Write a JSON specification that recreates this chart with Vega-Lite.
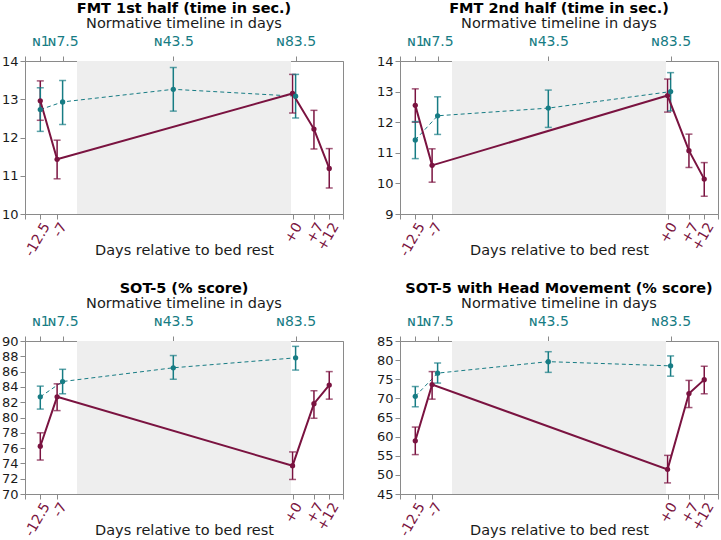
{
  "$schema": "https://vega.github.io/schema/vega-lite/v6.json",
  "padding": {"left": 0, "top": 0, "right": 2, "bottom": 2},
  "background": "white",
  "config": {
    "font": "DejaVu Sans",
    "view": {"stroke": "#8a8a8a", "strokeWidth": 1},
    "axis": {"domainColor": "#8a8a8a", "tickColor": "#8a8a8a", "grid": false, "labelColor": "#1a1a1a", "titleColor": "#1a1a1a", "labelFont": "DejaVu Sans", "titleFont": "DejaVu Sans", "titleFontWeight": "normal", "tickSize": 5},
    "axisY": {"labelOverlap": false, "labelFontSize": 13, "labelPadding": 2, "title": null}
  },
  "datasets": {
    "band": [{"start": 12, "end": 82}],
    "pts": [
      {"p": "FMT1", "g": "Bed rest", "x": 0, "mean": 12.96, "lo": 12.45, "hi": 13.48},
      {"p": "FMT1", "g": "Bed rest", "x": 5.5, "mean": 11.43, "lo": 10.92, "hi": 11.93},
      {"p": "FMT1", "g": "Bed rest", "x": 82.5, "mean": 13.15, "lo": 12.64, "hi": 13.65},
      {"p": "FMT1", "g": "Bed rest", "x": 89.5, "mean": 12.22, "lo": 11.70, "hi": 12.71},
      {"p": "FMT1", "g": "Bed rest", "x": 94.5, "mean": 11.19, "lo": 10.68, "hi": 11.71},
      {"p": "FMT1", "g": "Normative", "x": 0, "mean": 12.73, "lo": 12.16, "hi": 13.30},
      {"p": "FMT1", "g": "Normative", "x": 7.3, "mean": 12.93, "lo": 12.34, "hi": 13.49},
      {"p": "FMT1", "g": "Normative", "x": 43.5, "mean": 13.26, "lo": 12.69, "hi": 13.83},
      {"p": "FMT1", "g": "Normative", "x": 83.5, "mean": 13.08, "lo": 12.51, "hi": 13.65},
      {"p": "FMT2", "g": "Bed rest", "x": 0, "mean": 12.55, "lo": 12.0, "hi": 13.09},
      {"p": "FMT2", "g": "Bed rest", "x": 5.5, "mean": 10.59, "lo": 10.04, "hi": 11.13},
      {"p": "FMT2", "g": "Bed rest", "x": 82.5, "mean": 12.87, "lo": 12.33, "hi": 13.41},
      {"p": "FMT2", "g": "Bed rest", "x": 89.5, "mean": 11.07, "lo": 10.52, "hi": 11.61},
      {"p": "FMT2", "g": "Bed rest", "x": 94.5, "mean": 10.14, "lo": 9.58, "hi": 10.68},
      {"p": "FMT2", "g": "Normative", "x": 0, "mean": 11.42, "lo": 10.81, "hi": 12.02},
      {"p": "FMT2", "g": "Normative", "x": 7.3, "mean": 12.21, "lo": 11.60, "hi": 12.83},
      {"p": "FMT2", "g": "Normative", "x": 43.5, "mean": 12.46, "lo": 11.83, "hi": 13.05},
      {"p": "FMT2", "g": "Normative", "x": 83.5, "mean": 13.0, "lo": 12.37, "hi": 13.62},
      {"p": "SOT5", "g": "Bed rest", "x": 0, "mean": 76.24, "lo": 74.44, "hi": 78.0},
      {"p": "SOT5", "g": "Bed rest", "x": 5.5, "mean": 82.7, "lo": 80.9, "hi": 84.4},
      {"p": "SOT5", "g": "Bed rest", "x": 82.5, "mean": 73.7, "lo": 71.9, "hi": 75.5},
      {"p": "SOT5", "g": "Bed rest", "x": 89.5, "mean": 81.8, "lo": 79.9, "hi": 83.5},
      {"p": "SOT5", "g": "Bed rest", "x": 94.5, "mean": 84.24, "lo": 82.4, "hi": 86.0},
      {"p": "SOT5", "g": "Normative", "x": 0, "mean": 82.7, "lo": 81.1, "hi": 84.1},
      {"p": "SOT5", "g": "Normative", "x": 7.3, "mean": 84.7, "lo": 83.1, "hi": 86.3},
      {"p": "SOT5", "g": "Normative", "x": 43.5, "mean": 86.5, "lo": 85.0, "hi": 88.1},
      {"p": "SOT5", "g": "Normative", "x": 83.5, "mean": 87.8, "lo": 86.2, "hi": 89.3},
      {"p": "SOT5HM", "g": "Bed rest", "x": 0, "mean": 58.9, "lo": 55.3, "hi": 62.5},
      {"p": "SOT5HM", "g": "Bed rest", "x": 5.5, "mean": 73.6, "lo": 69.8, "hi": 77.0},
      {"p": "SOT5HM", "g": "Bed rest", "x": 82.5, "mean": 51.45, "lo": 47.9, "hi": 55.1},
      {"p": "SOT5HM", "g": "Bed rest", "x": 89.5, "mean": 71.25, "lo": 67.6, "hi": 74.7},
      {"p": "SOT5HM", "g": "Bed rest", "x": 94.5, "mean": 74.9, "lo": 71.2, "hi": 78.4},
      {"p": "SOT5HM", "g": "Normative", "x": 0, "mean": 70.55, "lo": 67.8, "hi": 73.1},
      {"p": "SOT5HM", "g": "Normative", "x": 7.3, "mean": 76.6, "lo": 74.0, "hi": 79.25},
      {"p": "SOT5HM", "g": "Normative", "x": 43.5, "mean": 79.6, "lo": 76.8, "hi": 82.2},
      {"p": "SOT5HM", "g": "Normative", "x": 83.5, "mean": 78.5, "lo": 75.8, "hi": 81.1}
    ]
  },
  "columns": 2,
  "spacing": {"row": 127, "column": 57},
  "bounds": "flush",
  "concat": [
    {
      "width": 318, "height": 153,
      "title": {"text": "FMT 1st half (time in sec.)", "subtitle": "Normative timeline in days", "fontSize": 14.5, "fontWeight": "bold", "color": "#000000", "subtitleFontSize": 14.5, "subtitleFontWeight": "normal", "subtitleColor": "#1a1a1a", "subtitlePadding": 0, "offset": 3, "anchor": "middle", "font": "DejaVu Sans", "subtitleFont": "DejaVu Sans"},
      "resolve": {"axis": {"x": "independent", "y": "independent"}},
      "layer": [
        {"data": {"name": "band"}, "mark": {"type": "rect", "color": "#eeeeee"},
         "encoding": {
           "x": {"field": "start", "type": "quantitative", "scale": {"domain": [-5, 99], "nice": false, "zero": false},
                 "axis": {"orient": "bottom", "title": "Days relative to bed rest", "titleFontSize": 14.5, "titleY": 40, "titleBaseline": "alphabetic", "values": [-5, 0, 5.5, 82.5, 89.5, 94.5, 99], "labelExpr": "datum.value == 0 ? '-12.5' : datum.value == 5.5 ? '-7' : datum.value == 82.5 ? '+0' : datum.value == 89.5 ? '+7' : datum.value == 94.5 ? '+12' : ''", "labelAngle": -60, "labelAlign": "right", "labelBaseline": "top", "labelFontSize": 14, "labelColor": "#7a1340", "labelPadding": 1, "labelOverlap": false, "labelFlush": false}},
           "x2": {"field": "end"}}},
        {"data": {"name": "pts"}, "transform": [{"filter": "datum.p == 'FMT1' && datum.g == 'Normative'"}],
         "mark": {"type": "line", "strokeWidth": 1, "strokeDash": [4, 3], "color": "#177c84"},
         "encoding": {
           "x": {"field": "x", "type": "quantitative", "scale": {"domain": [-5, 99], "nice": false, "zero": false},
                 "axis": {"orient": "top", "title": null, "values": [-5, 0, 7.3, 43.5, 83.5], "labelExpr": "datum.value == 0 ? 'ɴ1' : datum.value == 7.3 ? 'ɴ7.5' : datum.value == 43.5 ? 'ɴ43.5' : datum.value == 83.5 ? 'ɴ83.5' : ''", "labelFontSize": 14, "labelColor": "#177c84", "labelPadding": 8, "labelOverlap": false, "labelFlush": false}},
           "y": {"field": "mean", "type": "quantitative", "scale": {"domain": [10, 14], "nice": false, "zero": false},
                 "axis": {"title": null, "values": [10, 11, 12, 13, 14], "labelOverlap": false, "labelFlush": false}}}},
        {"data": {"name": "pts"}, "transform": [{"filter": "datum.p == 'FMT1'"}],
         "mark": {"type": "rule", "strokeWidth": 1.5},
         "encoding": {"x": {"field": "x", "type": "quantitative", "axis": null}, "y": {"field": "lo", "type": "quantitative", "axis": null}, "y2": {"field": "hi"},
           "color": {"field": "g", "type": "nominal", "scale": {"domain": ["Bed rest", "Normative"], "range": ["#7a1340", "#177c84"]}, "legend": null}}},
        {"data": {"name": "pts"}, "transform": [{"filter": "datum.p == 'FMT1'"}],
         "mark": {"type": "tick", "orient": "horizontal", "size": 7, "thickness": 1.5},
         "encoding": {"x": {"field": "x", "type": "quantitative", "axis": null}, "y": {"field": "lo", "type": "quantitative", "axis": null},
           "color": {"field": "g", "type": "nominal", "legend": null}}},
        {"data": {"name": "pts"}, "transform": [{"filter": "datum.p == 'FMT1'"}],
         "mark": {"type": "tick", "orient": "horizontal", "size": 7, "thickness": 1.5},
         "encoding": {"x": {"field": "x", "type": "quantitative", "axis": null}, "y": {"field": "hi", "type": "quantitative", "axis": null},
           "color": {"field": "g", "type": "nominal", "legend": null}}},
        {"data": {"name": "pts"}, "transform": [{"filter": "datum.p == 'FMT1' && datum.g == 'Bed rest'"}],
         "mark": {"type": "line", "strokeWidth": 2, "color": "#7a1340"},
         "encoding": {"x": {"field": "x", "type": "quantitative", "axis": null}, "y": {"field": "mean", "type": "quantitative", "axis": null}}},
        {"data": {"name": "pts"}, "transform": [{"filter": "datum.p == 'FMT1'"}],
         "mark": {"type": "circle", "size": 28, "opacity": 1},
         "encoding": {"x": {"field": "x", "type": "quantitative", "axis": null}, "y": {"field": "mean", "type": "quantitative", "axis": null},
           "color": {"field": "g", "type": "nominal", "legend": null}}}
      ]
    },
    {
      "width": 318, "height": 153,
      "title": {"text": "FMT 2nd half (time in sec.)", "subtitle": "Normative timeline in days", "fontSize": 14.5, "fontWeight": "bold", "color": "#000000", "subtitleFontSize": 14.5, "subtitleFontWeight": "normal", "subtitleColor": "#1a1a1a", "subtitlePadding": 0, "offset": 3, "anchor": "middle", "font": "DejaVu Sans", "subtitleFont": "DejaVu Sans"},
      "resolve": {"axis": {"x": "independent", "y": "independent"}},
      "layer": [
        {"data": {"name": "band"}, "mark": {"type": "rect", "color": "#eeeeee"},
         "encoding": {
           "x": {"field": "start", "type": "quantitative", "scale": {"domain": [-5, 99], "nice": false, "zero": false},
                 "axis": {"orient": "bottom", "title": "Days relative to bed rest", "titleFontSize": 14.5, "titleY": 40, "titleBaseline": "alphabetic", "values": [-5, 0, 5.5, 82.5, 89.5, 94.5, 99], "labelExpr": "datum.value == 0 ? '-12.5' : datum.value == 5.5 ? '-7' : datum.value == 82.5 ? '+0' : datum.value == 89.5 ? '+7' : datum.value == 94.5 ? '+12' : ''", "labelAngle": -60, "labelAlign": "right", "labelBaseline": "top", "labelFontSize": 14, "labelColor": "#7a1340", "labelPadding": 1, "labelOverlap": false, "labelFlush": false}},
           "x2": {"field": "end"}}},
        {"data": {"name": "pts"}, "transform": [{"filter": "datum.p == 'FMT2' && datum.g == 'Normative'"}],
         "mark": {"type": "line", "strokeWidth": 1, "strokeDash": [4, 3], "color": "#177c84"},
         "encoding": {
           "x": {"field": "x", "type": "quantitative", "scale": {"domain": [-5, 99], "nice": false, "zero": false},
                 "axis": {"orient": "top", "title": null, "values": [-5, 0, 7.3, 43.5, 83.5], "labelExpr": "datum.value == 0 ? 'ɴ1' : datum.value == 7.3 ? 'ɴ7.5' : datum.value == 43.5 ? 'ɴ43.5' : datum.value == 83.5 ? 'ɴ83.5' : ''", "labelFontSize": 14, "labelColor": "#177c84", "labelPadding": 8, "labelOverlap": false, "labelFlush": false}},
           "y": {"field": "mean", "type": "quantitative", "scale": {"domain": [9, 14], "nice": false, "zero": false},
                 "axis": {"title": null, "values": [9, 10, 11, 12, 13, 14], "labelOverlap": false, "labelFlush": false}}}},
        {"data": {"name": "pts"}, "transform": [{"filter": "datum.p == 'FMT2'"}],
         "mark": {"type": "rule", "strokeWidth": 1.5},
         "encoding": {"x": {"field": "x", "type": "quantitative", "axis": null}, "y": {"field": "lo", "type": "quantitative", "axis": null}, "y2": {"field": "hi"},
           "color": {"field": "g", "type": "nominal", "scale": {"domain": ["Bed rest", "Normative"], "range": ["#7a1340", "#177c84"]}, "legend": null}}},
        {"data": {"name": "pts"}, "transform": [{"filter": "datum.p == 'FMT2'"}],
         "mark": {"type": "tick", "orient": "horizontal", "size": 7, "thickness": 1.5},
         "encoding": {"x": {"field": "x", "type": "quantitative", "axis": null}, "y": {"field": "lo", "type": "quantitative", "axis": null},
           "color": {"field": "g", "type": "nominal", "legend": null}}},
        {"data": {"name": "pts"}, "transform": [{"filter": "datum.p == 'FMT2'"}],
         "mark": {"type": "tick", "orient": "horizontal", "size": 7, "thickness": 1.5},
         "encoding": {"x": {"field": "x", "type": "quantitative", "axis": null}, "y": {"field": "hi", "type": "quantitative", "axis": null},
           "color": {"field": "g", "type": "nominal", "legend": null}}},
        {"data": {"name": "pts"}, "transform": [{"filter": "datum.p == 'FMT2' && datum.g == 'Bed rest'"}],
         "mark": {"type": "line", "strokeWidth": 2, "color": "#7a1340"},
         "encoding": {"x": {"field": "x", "type": "quantitative", "axis": null}, "y": {"field": "mean", "type": "quantitative", "axis": null}}},
        {"data": {"name": "pts"}, "transform": [{"filter": "datum.p == 'FMT2'"}],
         "mark": {"type": "circle", "size": 28, "opacity": 1},
         "encoding": {"x": {"field": "x", "type": "quantitative", "axis": null}, "y": {"field": "mean", "type": "quantitative", "axis": null},
           "color": {"field": "g", "type": "nominal", "legend": null}}}
      ]
    },
    {
      "width": 318, "height": 153,
      "title": {"text": "SOT-5 (% score)", "subtitle": "Normative timeline in days", "fontSize": 14.5, "fontWeight": "bold", "color": "#000000", "subtitleFontSize": 14.5, "subtitleFontWeight": "normal", "subtitleColor": "#1a1a1a", "subtitlePadding": 0, "offset": 3, "anchor": "middle", "font": "DejaVu Sans", "subtitleFont": "DejaVu Sans"},
      "resolve": {"axis": {"x": "independent", "y": "independent"}},
      "layer": [
        {"data": {"name": "band"}, "mark": {"type": "rect", "color": "#eeeeee"},
         "encoding": {
           "x": {"field": "start", "type": "quantitative", "scale": {"domain": [-5, 99], "nice": false, "zero": false},
                 "axis": {"orient": "bottom", "title": "Days relative to bed rest", "titleFontSize": 14.5, "titleY": 40, "titleBaseline": "alphabetic", "values": [-5, 0, 5.5, 82.5, 89.5, 94.5, 99], "labelExpr": "datum.value == 0 ? '-12.5' : datum.value == 5.5 ? '-7' : datum.value == 82.5 ? '+0' : datum.value == 89.5 ? '+7' : datum.value == 94.5 ? '+12' : ''", "labelAngle": -60, "labelAlign": "right", "labelBaseline": "top", "labelFontSize": 14, "labelColor": "#7a1340", "labelPadding": 1, "labelOverlap": false, "labelFlush": false}},
           "x2": {"field": "end"}}},
        {"data": {"name": "pts"}, "transform": [{"filter": "datum.p == 'SOT5' && datum.g == 'Normative'"}],
         "mark": {"type": "line", "strokeWidth": 1, "strokeDash": [4, 3], "color": "#177c84"},
         "encoding": {
           "x": {"field": "x", "type": "quantitative", "scale": {"domain": [-5, 99], "nice": false, "zero": false},
                 "axis": {"orient": "top", "title": null, "values": [-5, 0, 7.3, 43.5, 83.5], "labelExpr": "datum.value == 0 ? 'ɴ1' : datum.value == 7.3 ? 'ɴ7.5' : datum.value == 43.5 ? 'ɴ43.5' : datum.value == 83.5 ? 'ɴ83.5' : ''", "labelFontSize": 14, "labelColor": "#177c84", "labelPadding": 8, "labelOverlap": false, "labelFlush": false}},
           "y": {"field": "mean", "type": "quantitative", "scale": {"domain": [70, 90], "nice": false, "zero": false},
                 "axis": {"title": null, "values": [70, 72, 74, 76, 78, 80, 82, 84, 86, 88, 90], "labelOverlap": false, "labelFlush": false}}}},
        {"data": {"name": "pts"}, "transform": [{"filter": "datum.p == 'SOT5'"}],
         "mark": {"type": "rule", "strokeWidth": 1.5},
         "encoding": {"x": {"field": "x", "type": "quantitative", "axis": null}, "y": {"field": "lo", "type": "quantitative", "axis": null}, "y2": {"field": "hi"},
           "color": {"field": "g", "type": "nominal", "scale": {"domain": ["Bed rest", "Normative"], "range": ["#7a1340", "#177c84"]}, "legend": null}}},
        {"data": {"name": "pts"}, "transform": [{"filter": "datum.p == 'SOT5'"}],
         "mark": {"type": "tick", "orient": "horizontal", "size": 7, "thickness": 1.5},
         "encoding": {"x": {"field": "x", "type": "quantitative", "axis": null}, "y": {"field": "lo", "type": "quantitative", "axis": null},
           "color": {"field": "g", "type": "nominal", "legend": null}}},
        {"data": {"name": "pts"}, "transform": [{"filter": "datum.p == 'SOT5'"}],
         "mark": {"type": "tick", "orient": "horizontal", "size": 7, "thickness": 1.5},
         "encoding": {"x": {"field": "x", "type": "quantitative", "axis": null}, "y": {"field": "hi", "type": "quantitative", "axis": null},
           "color": {"field": "g", "type": "nominal", "legend": null}}},
        {"data": {"name": "pts"}, "transform": [{"filter": "datum.p == 'SOT5' && datum.g == 'Bed rest'"}],
         "mark": {"type": "line", "strokeWidth": 2, "color": "#7a1340"},
         "encoding": {"x": {"field": "x", "type": "quantitative", "axis": null}, "y": {"field": "mean", "type": "quantitative", "axis": null}}},
        {"data": {"name": "pts"}, "transform": [{"filter": "datum.p == 'SOT5'"}],
         "mark": {"type": "circle", "size": 28, "opacity": 1},
         "encoding": {"x": {"field": "x", "type": "quantitative", "axis": null}, "y": {"field": "mean", "type": "quantitative", "axis": null},
           "color": {"field": "g", "type": "nominal", "legend": null}}}
      ]
    },
    {
      "width": 318, "height": 153,
      "title": {"text": "SOT-5 with Head Movement (% score)", "subtitle": "Normative timeline in days", "fontSize": 14.5, "fontWeight": "bold", "color": "#000000", "subtitleFontSize": 14.5, "subtitleFontWeight": "normal", "subtitleColor": "#1a1a1a", "subtitlePadding": 0, "offset": 3, "anchor": "middle", "font": "DejaVu Sans", "subtitleFont": "DejaVu Sans"},
      "resolve": {"axis": {"x": "independent", "y": "independent"}},
      "layer": [
        {"data": {"name": "band"}, "mark": {"type": "rect", "color": "#eeeeee"},
         "encoding": {
           "x": {"field": "start", "type": "quantitative", "scale": {"domain": [-5, 99], "nice": false, "zero": false},
                 "axis": {"orient": "bottom", "title": "Days relative to bed rest", "titleFontSize": 14.5, "titleY": 40, "titleBaseline": "alphabetic", "values": [-5, 0, 5.5, 82.5, 89.5, 94.5, 99], "labelExpr": "datum.value == 0 ? '-12.5' : datum.value == 5.5 ? '-7' : datum.value == 82.5 ? '+0' : datum.value == 89.5 ? '+7' : datum.value == 94.5 ? '+12' : ''", "labelAngle": -60, "labelAlign": "right", "labelBaseline": "top", "labelFontSize": 14, "labelColor": "#7a1340", "labelPadding": 1, "labelOverlap": false, "labelFlush": false}},
           "x2": {"field": "end"}}},
        {"data": {"name": "pts"}, "transform": [{"filter": "datum.p == 'SOT5HM' && datum.g == 'Normative'"}],
         "mark": {"type": "line", "strokeWidth": 1, "strokeDash": [4, 3], "color": "#177c84"},
         "encoding": {
           "x": {"field": "x", "type": "quantitative", "scale": {"domain": [-5, 99], "nice": false, "zero": false},
                 "axis": {"orient": "top", "title": null, "values": [-5, 0, 7.3, 43.5, 83.5], "labelExpr": "datum.value == 0 ? 'ɴ1' : datum.value == 7.3 ? 'ɴ7.5' : datum.value == 43.5 ? 'ɴ43.5' : datum.value == 83.5 ? 'ɴ83.5' : ''", "labelFontSize": 14, "labelColor": "#177c84", "labelPadding": 8, "labelOverlap": false, "labelFlush": false}},
           "y": {"field": "mean", "type": "quantitative", "scale": {"domain": [45, 85], "nice": false, "zero": false},
                 "axis": {"title": null, "values": [45, 50, 55, 60, 65, 70, 75, 80, 85], "labelOverlap": false, "labelFlush": false}}}},
        {"data": {"name": "pts"}, "transform": [{"filter": "datum.p == 'SOT5HM'"}],
         "mark": {"type": "rule", "strokeWidth": 1.5},
         "encoding": {"x": {"field": "x", "type": "quantitative", "axis": null}, "y": {"field": "lo", "type": "quantitative", "axis": null}, "y2": {"field": "hi"},
           "color": {"field": "g", "type": "nominal", "scale": {"domain": ["Bed rest", "Normative"], "range": ["#7a1340", "#177c84"]}, "legend": null}}},
        {"data": {"name": "pts"}, "transform": [{"filter": "datum.p == 'SOT5HM'"}],
         "mark": {"type": "tick", "orient": "horizontal", "size": 7, "thickness": 1.5},
         "encoding": {"x": {"field": "x", "type": "quantitative", "axis": null}, "y": {"field": "lo", "type": "quantitative", "axis": null},
           "color": {"field": "g", "type": "nominal", "legend": null}}},
        {"data": {"name": "pts"}, "transform": [{"filter": "datum.p == 'SOT5HM'"}],
         "mark": {"type": "tick", "orient": "horizontal", "size": 7, "thickness": 1.5},
         "encoding": {"x": {"field": "x", "type": "quantitative", "axis": null}, "y": {"field": "hi", "type": "quantitative", "axis": null},
           "color": {"field": "g", "type": "nominal", "legend": null}}},
        {"data": {"name": "pts"}, "transform": [{"filter": "datum.p == 'SOT5HM' && datum.g == 'Bed rest'"}],
         "mark": {"type": "line", "strokeWidth": 2, "color": "#7a1340"},
         "encoding": {"x": {"field": "x", "type": "quantitative", "axis": null}, "y": {"field": "mean", "type": "quantitative", "axis": null}}},
        {"data": {"name": "pts"}, "transform": [{"filter": "datum.p == 'SOT5HM'"}],
         "mark": {"type": "circle", "size": 28, "opacity": 1},
         "encoding": {"x": {"field": "x", "type": "quantitative", "axis": null}, "y": {"field": "mean", "type": "quantitative", "axis": null},
           "color": {"field": "g", "type": "nominal", "legend": null}}}
      ]
    }
  ]
}
